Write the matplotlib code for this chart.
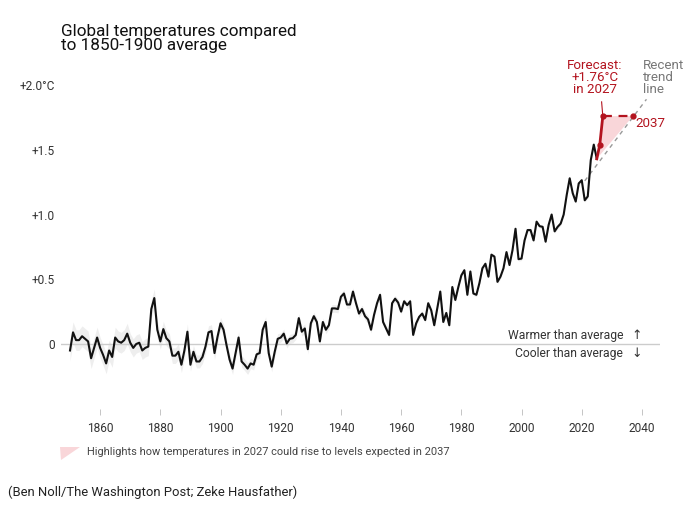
import numpy as np
import matplotlib
matplotlib.use('Agg')
import matplotlib.pyplot as plt
from matplotlib.patches import Polygon

plt.rcParams['font.family'] = ['Roboto', 'DejaVu Sans']

# annual anomalies vs 1850-1900
years = list(range(1850, 2026))
temps = [
    -0.05, 0.09, 0.03, 0.03, 0.06, 0.04, 0.02, -0.11, -0.03, 0.05,
    -0.03, -0.085, -0.15, -0.05, -0.10, 0.05, 0.02, 0.01, 0.03, 0.08,
    0.01, -0.03, 0.00, 0.01, -0.05, -0.03, -0.02, 0.27, 0.355, 0.11,
    0.02, 0.115, 0.045, 0.02, -0.09, -0.09, -0.06, -0.16, -0.05, 0.095,
    -0.16, -0.06, -0.135, -0.135, -0.10, -0.02, 0.09, 0.10, -0.07, 0.056,
    0.16, 0.11, -0.01, -0.12, -0.19, -0.07, 0.05, -0.135, -0.16, -0.19,
    -0.15, -0.16, -0.08, -0.07, 0.11, 0.17, -0.07, -0.175, -0.06, 0.04,
    0.05, 0.08, 0.005, 0.04, 0.045, 0.07, 0.20, 0.095, 0.12, -0.04,
    0.16, 0.215, 0.17, 0.02, 0.17, 0.11, 0.145, 0.275, 0.275, 0.27,
    0.365, 0.39, 0.305, 0.305, 0.405, 0.315, 0.235, 0.27, 0.215, 0.19,
    0.11, 0.225, 0.315, 0.38, 0.17, 0.12, 0.07, 0.315, 0.35, 0.32,
    0.25, 0.33, 0.30, 0.33, 0.07, 0.16, 0.21, 0.235, 0.185, 0.315,
    0.26, 0.145, 0.275, 0.405, 0.17, 0.24, 0.145, 0.44, 0.34, 0.44,
    0.53, 0.57, 0.38, 0.56, 0.39, 0.38, 0.47, 0.585, 0.62, 0.52,
    0.69, 0.675, 0.48, 0.52, 0.585, 0.71, 0.61, 0.725, 0.89, 0.655,
    0.66, 0.80, 0.88, 0.88, 0.80, 0.945, 0.91, 0.905, 0.79, 0.92,
    1.00, 0.87, 0.905, 0.93, 1.00, 1.15, 1.28, 1.165, 1.10, 1.24,
    1.265, 1.11, 1.14, 1.42, 1.54, 1.43,
]
# rough uncertainty half-width per decade (1850s ... 2020s)
unc_by_decade = [0.08, 0.08, 0.07, 0.06, 0.05, 0.045, 0.04, 0.035, 0.03,
                 0.03, 0.025, 0.02, 0.02, 0.015, 0.015, 0.015, 0.015, 0.015]

forecast_years = [2025, 2026, 2027]
forecast_vals = [1.43, 1.54, 1.76]
match_year = 2037
match_val = 1.76
trend_years = [2021, 2041.5]
trend_vals = [1.26, 1.89]

ytick_vals = [0, 0.5, 1.0, 1.5, 2.0]
ytick_labels = ['0', '+0.5', '+1.0', '+1.5', '+2.0°C']
xtick_vals = list(range(1860, 2041, 20))

RED = '#b3141f'
PINK = '#f9d6d9'
W, H = 700, 511


def px(x, y):
    return x / W, 1 - y / H


fig = plt.figure(figsize=(7, 5.11), dpi=100)
ax = fig.add_axes([61 / W, 102 / H, 599 / W, 329 / H])
ax.set_xlim(1847, 2046)
ax.set_ylim(-0.502, 2.039)
for s in ax.spines.values():
    s.set_visible(False)

yrs = np.array(years)
t = np.array(temps)
unc = np.repeat(unc_by_decade, 10)[:len(yrs)]
ax.fill_between(yrs, t - unc, t + unc, color='#eeeeee', lw=0, zorder=1)
ax.axhline(0, color='#cccccc', lw=1, zorder=2)

# pink highlight between forecast and trend
poly_pts = list(zip(forecast_years, forecast_vals)) + [(match_year, match_val)]
ax.add_patch(Polygon(poly_pts, closed=True, facecolor=PINK, edgecolor='none', zorder=2))

ax.plot(trend_years, trend_vals, color='#999999', lw=1, dashes=(3, 3), zorder=3)
ax.plot(yrs, t, color='#111111', lw=1.5, zorder=4)
ax.plot(forecast_years, forecast_vals, color=RED, lw=2, zorder=5)
ax.plot([forecast_years[-1], match_year], [match_val, match_val], color=RED, lw=1.6,
        dashes=(4, 3), zorder=5)
ax.plot([forecast_years[1], forecast_years[2], match_year],
        [forecast_vals[1], forecast_vals[2], match_val],
        'o', color=RED, ms=3.5, zorder=6)
ax.plot([2026.6, forecast_years[2]], [1.87, match_val], color=RED, lw=0.8, zorder=5)

ax.set_yticks(ytick_vals)
ax.set_yticklabels(ytick_labels)
ax.set_xticks(xtick_vals)
ax.set_xticklabels([str(x) for x in xtick_vals])
ax.tick_params(axis='y', length=0, pad=4.5, labelsize=8.6, labelcolor='#333333')
ax.tick_params(axis='x', length=4, width=0.6, color='#bbbbbb', pad=5,
               labelsize=8.6, labelcolor='#333333')

fig.text(*px(61, 24), 'Global temperatures compared\nto 1850-1900 average',
         fontsize=12.3, color='#111111', va='top', ha='left', linespacing=0.95)

fig.text(*px(595, 59), 'Forecast:\n+1.76°C\nin 2027', color=RED, fontsize=9.6,
         ha='center', va='top', linespacing=0.92)
fig.text(*px(643, 59), 'Recent\ntrend\nline', color='#777777', fontsize=9.6,
         ha='left', va='top', linespacing=0.92)
fig.text(*px(635, 123), '2037', color=RED, fontsize=9.6, ha='left', va='center')

fig.text(*px(623, 336), 'Warmer than average', color='#333333', fontsize=8.7,
         ha='right', va='center')
fig.text(*px(623, 353), 'Cooler than average', color='#333333', fontsize=8.7,
         ha='right', va='center')
fig.text(*px(637, 335), '↑', color='#333333', fontsize=9, ha='center', va='center',
         family=['DejaVu Sans'])
fig.text(*px(637, 353), '↓', color='#333333', fontsize=9, ha='center', va='center',
         family=['DejaVu Sans'])

# legend swatch
leg = Polygon([px(60, 447), px(80, 447), px(61, 460)], closed=True,
              transform=fig.transFigure, facecolor=PINK, edgecolor='none')
fig.patches.append(leg)
fig.text(*px(87, 452), 'Highlights how temperatures in 2027 could rise to levels expected in 2037',
         color='#444444', fontsize=7.9, ha='left', va='center')

fig.text(*px(8, 492), '(Ben Noll/The Washington Post; Zeke Hausfather)',
         color='#222222', fontsize=9.4, ha='left', va='center')

fig.savefig('out.png', dpi=100)
